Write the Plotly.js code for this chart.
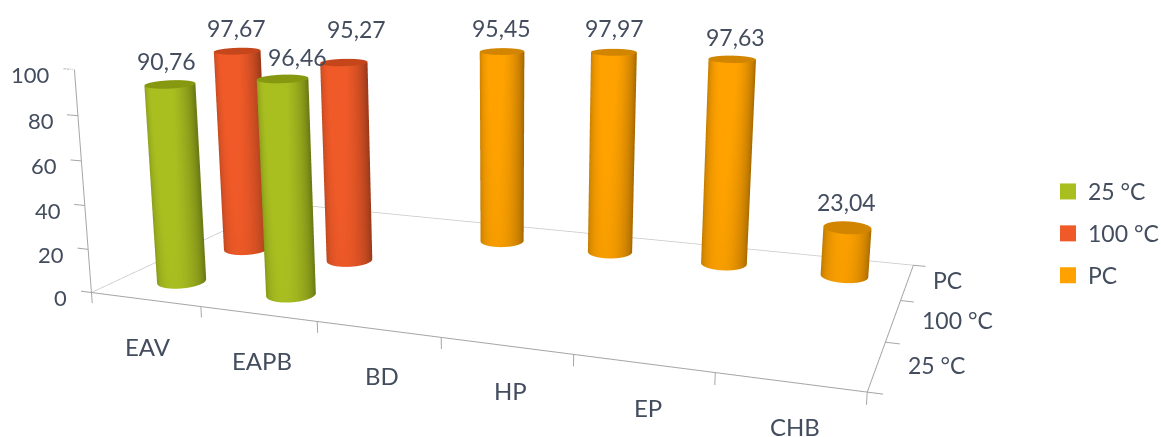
<!DOCTYPE html>
<html>
<head>
<meta charset="utf-8">
<script src="https://cdn.plot.ly/plotly-3.0.1.min.js"></script>
<style>
html,body{margin:0;padding:0;width:1161px;height:437px;overflow:hidden;background:#fff}
#chart{position:absolute;left:-197px;top:-380px;width:1400px;height:1201px}
</style>
</head>
<body>
<div id="chart"></div>
<script>
// Conversion at 25 °C, 100 °C and for the PC reference, per sample
const categories = ['EAV', 'EAPB', 'BD', 'HP', 'EP', 'CHB'];
const seriesNames = ['25 °C', '100 °C', 'PC'];
const values25 = [90.76, 96.46, null, null, null, null];
const values100 = [97.67, 95.27, null, null, null, null];
const valuesPC = [null, null, 95.45, 97.97, 97.63, 23.04];
const zTicks = [0, 20, 40, 60, 80, 100];
const sideColors = ['#a9bf20', '#f05a28', '#ffa200'];
const capColors = ['#86980f', '#c4461a', '#d28500'];
const inkColor = '#434d5e';
const allValues = [values25, values100, valuesPC];

const RX = 0.19, RY = 0.2, SEGMENTS = 64;
const font = {family: 'Lato, sans-serif', size: 23, color: inkColor};
const fmt = v => v.toFixed(2).replace('.', ',');
const nC = categories.length, nS = seriesNames.length;
const TICK_X = 0.1, TICK_Z = 5;

// One mesh for the walls and one for the lids of all cylinders in a row
function cylinders(vals, row) {
  const side = {x: [], y: [], z: [], i: [], j: [], k: []};
  const cap = {x: [], y: [], z: [], i: [], j: [], k: []};
  vals.forEach((v, c) => {
    if (v === null) return;
    const cx = c + 0.5, cy = row + 0.5;
    const s0 = side.x.length;
    const c0 = cap.x.length;
    cap.x.push(cx); cap.y.push(cy); cap.z.push(v);
    for (let n = 0; n < SEGMENTS; n++) {
      const a = 2 * Math.PI * n / SEGMENTS;
      const px = cx + RX * Math.cos(a), py = cy + RY * Math.sin(a);
      side.x.push(px, px); side.y.push(py, py); side.z.push(0, v);
      cap.x.push(px); cap.y.push(py); cap.z.push(v);
      const m = (n + 1) % SEGMENTS;
      side.i.push(s0 + 2 * n, s0 + 2 * n + 1);
      side.j.push(s0 + 2 * m, s0 + 2 * m);
      side.k.push(s0 + 2 * n + 1, s0 + 2 * m + 1);
      cap.i.push(c0); cap.j.push(c0 + 1 + n); cap.k.push(c0 + 1 + m);
    }
  });
  return {side, cap};
}

const traces = [];

// Chart frame: each entry is a polyline drawn in scene coordinates
function frameLine(pts, color, width) {
  traces.push({
    type: 'scatter3d', mode: 'lines', showlegend: false, hoverinfo: 'skip',
    x: pts.map(p => p ? p[0] : null), y: pts.map(p => p ? p[1] : null), z: pts.map(p => p ? p[2] : null),
    line: {color, width}
  });
}
frameLine([[0, 0, 0], [0, nS, 0], [nC, nS, 0]], '#c8c8c8', 1.5);
frameLine([[0, 0, 100], [0, 0, 0], [nC, 0, 0], [nC, nS, 0]], '#a6a6a6', 2);
const tickPts = [];
zTicks.forEach(t => tickPts.push([0, 0, t], [-TICK_X, 0, t], null));
for (let c = 0; c <= nC; c++) tickPts.push([c, 0, 0], [c, 0, -TICK_Z], null);
for (let s = 0; s <= nS; s++) tickPts.push([nC, s, 0], [nC + TICK_X, s, 0], null);
frameLine(tickPts, '#a6a6a6', 2);

allValues.forEach((vals, row) => {
  const {side, cap} = cylinders(vals, row);
  traces.push(Object.assign({
    type: 'mesh3d', color: sideColors[row], flatshading: false, showlegend: false, hoverinfo: 'skip',
    showscale: false,
    lighting: {ambient: 0.65, diffuse: 0.55, specular: 0, roughness: 1, fresnel: 0},
    lightposition: {x: 500, y: -800, z: 300}
  }, side));
  traces.push(Object.assign({
    type: 'mesh3d', color: capColors[row], flatshading: true, showlegend: false, hoverinfo: 'skip',
    lighting: {ambient: 1, diffuse: 0, specular: 0, roughness: 1, fresnel: 0}
  }, cap));
  traces.push({
    type: 'scatter3d', mode: 'markers', name: seriesNames[row], legendgroup: seriesNames[row],
    x: [null], y: [null], z: [null], hoverinfo: 'skip',
    marker: {symbol: 'square', size: 16, color: sideColors[row]}
  });
});

// Text is laid over the scene, anchored at scene coordinates
const annotations = [];
zTicks.forEach(t => annotations.push({
  x: 0, y: 0, z: t, text: String(t), showarrow: false, font: Object.assign({}, font, {size: 22}),
  xanchor: 'right', yanchor: 'middle', xshift: -22, yshift: -5
}));
categories.forEach((c, n) => annotations.push({
  x: n + 0.5, y: 0, z: 0, text: c, showarrow: false, font: Object.assign({}, font, {size: 24}),
  xanchor: 'center', yanchor: 'middle', xshift: 3 + 0.5 * n, yshift: -47 + 0.6 * n
}));
const rowLabelX = [29, 27, 24], rowLabelY = [1, 1, 2];
seriesNames.forEach((s, n) => annotations.push({
  x: nC, y: n + 0.5, z: 0, text: s, showarrow: false, font,
  xanchor: 'left', yanchor: 'middle', xshift: rowLabelX[n], yshift: rowLabelY[n]
}));
const labelShift = {
  '0,0': [-4, 23], '0,1': [15, 22], '1,0': [-1, 23], '1,1': [13, 33],
  '2,2': [-1, 23], '2,3': [1, 24], '2,4': [3, 22], '2,5': [-1, 26]
};
allValues.forEach((vals, row) => vals.forEach((v, c) => {
  if (v === null) return;
  const s = labelShift[row + ',' + c];
  annotations.push({
    x: c + 0.5, y: row + 0.5, z: v, text: fmt(v), showarrow: false, font,
    xanchor: 'center', yanchor: 'middle', xshift: s[0], yshift: s[1]
  });
}));

const hiddenAxis = {visible: false, autorange: false};

const layout = {
  width: 1400, height: 1201,
  margin: {l: 0, r: 0, t: 0, b: 0},
  paper_bgcolor: '#ffffff',
  showlegend: true,
  legend: {
    x: (1048 + 197) / 1400, y: 1 - (170 + 380) / 1201, xanchor: 'left', yanchor: 'top',
    font, tracegroupgap: 9, traceorder: 'grouped', bgcolor: 'rgba(0,0,0,0)'
  },
  scene: {
    domain: {x: [0, 1], y: [0, 1]},
    aspectmode: 'manual',
    aspectratio: {x: 1.07, y: 0.53, z: 0.3213},
    camera: {
      eye: {x: 0.673, y: -1.83, z: 0.4567},
      center: {x: -0.0108, y: -0.0194, z: -0.0572},
      up: {x: 0, y: 0, z: 1},
      projection: {type: 'perspective'}
    },
    xaxis: Object.assign({}, hiddenAxis, {range: [-TICK_X, nC + TICK_X]}),
    yaxis: Object.assign({}, hiddenAxis, {range: [0, nS]}),
    zaxis: Object.assign({}, hiddenAxis, {range: [-TICK_Z, 100]}),
    annotations
  }
};

Plotly.newPlot('chart', traces, layout, {displayModeBar: false});
</script>
</body>
</html>
